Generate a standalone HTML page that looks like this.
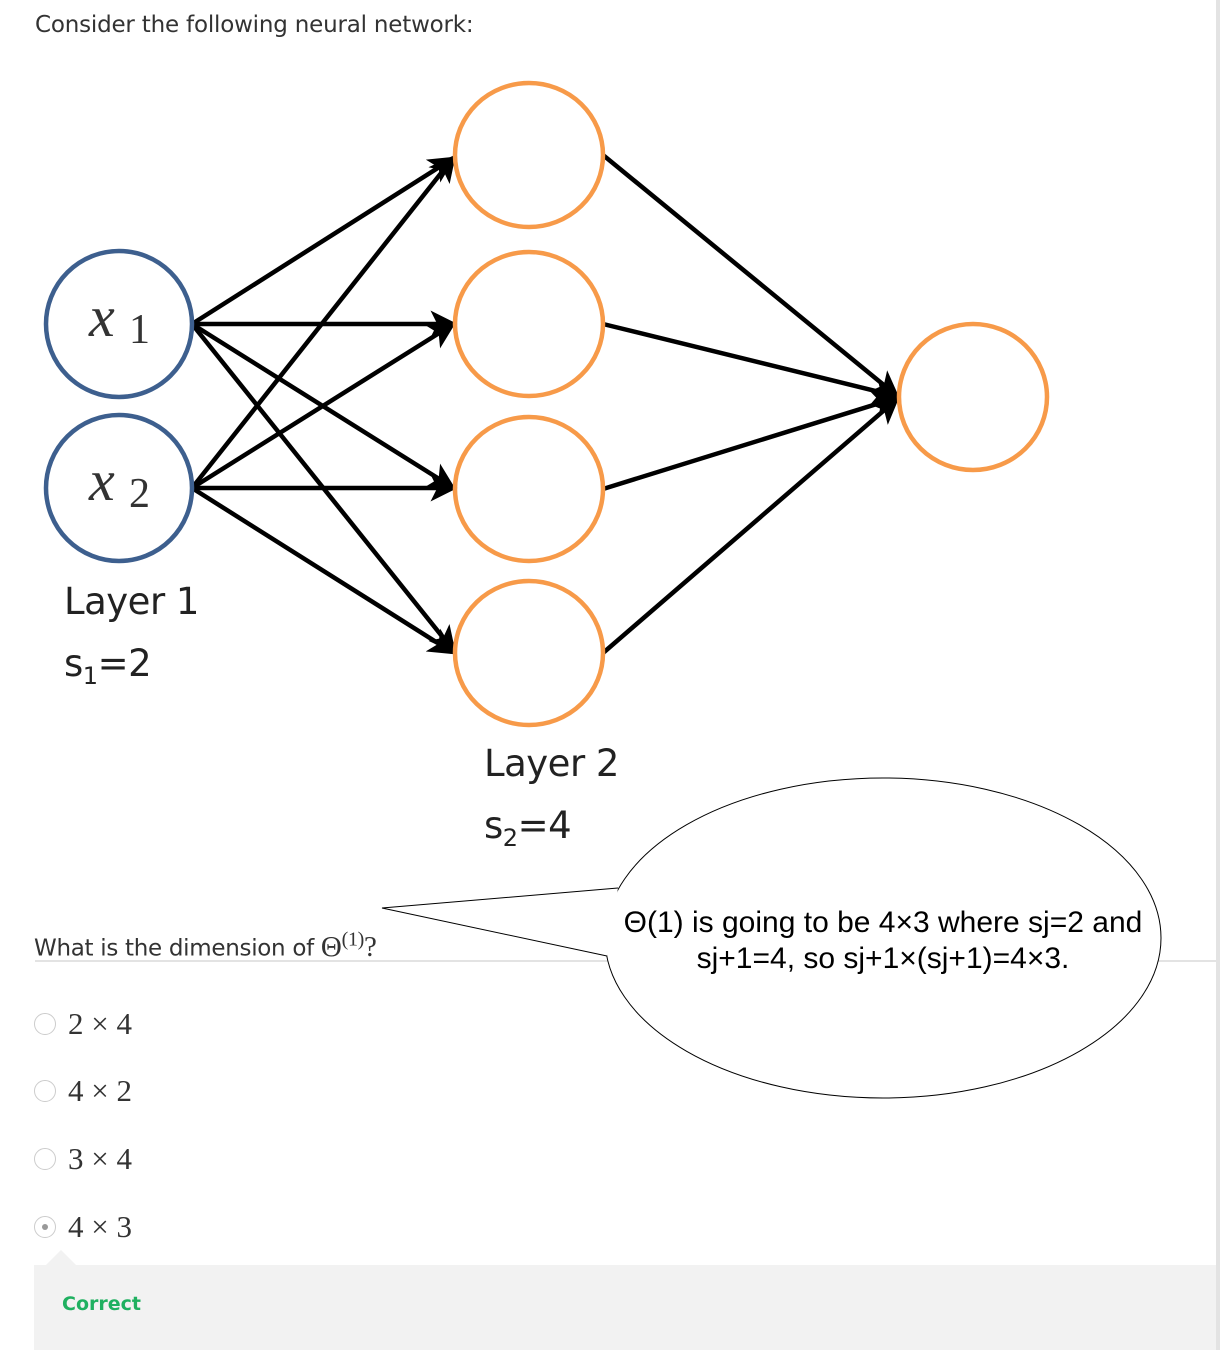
<!DOCTYPE html>
<html><head><meta charset="utf-8"><style>
body{margin:0;width:1220px;height:1350px;background:#fff;position:relative;overflow:hidden;font-family:"Liberation Sans",sans-serif}
.t{position:absolute;color:#333;font-size:24px;font-family:"DejaVu Sans","Liberation Sans",sans-serif}
.opt{position:absolute;left:33px;font-family:"Liberation Serif",serif;font-size:31px;color:#333}
.rad{position:absolute;left:34px;width:20px;height:20px;border:1px solid #ccc;border-radius:50%;background:#fff}
</style></head><body>
<div style="position:absolute;right:0;top:0;width:4px;height:1350px;background:#e3e3e3"></div>
<div class="t" style="left:35px;top:12px;font-size:23px;letter-spacing:-0.2px">Consider the following neural network:</div>
<svg width="1220" height="1350" style="position:absolute;left:0;top:0">
<defs><marker id="a" markerWidth="6" markerHeight="6" refX="5" refY="3" orient="auto" markerUnits="strokeWidth"><path d="M0,0 L6,3 L0,6 L1.5,3 Z" fill="#000"/></marker></defs>
<g stroke="#000" stroke-width="4.5" marker-end="url(#a)">
<line x1="192" y1="324" x2="452" y2="159"/><line x1="192" y1="324" x2="453" y2="324"/><line x1="192" y1="324" x2="452" y2="487"/><line x1="192" y1="324" x2="453" y2="650"/>
<line x1="192" y1="488" x2="453" y2="158"/><line x1="192" y1="488" x2="452" y2="325"/><line x1="192" y1="488" x2="453" y2="488"/><line x1="192" y1="488" x2="452" y2="652"/>
<line x1="603" y1="155" x2="896" y2="395"/><line x1="603" y1="324" x2="896" y2="396"/><line x1="603" y1="489" x2="896" y2="398"/><line x1="603" y1="653" x2="896" y2="400"/>
</g>
<g fill="none" stroke="#3d5f8e" stroke-width="4.5"><circle cx="119" cy="324" r="73"/><circle cx="119" cy="488" r="73"/></g>
<g fill="none" stroke="#f79a49" stroke-width="4.5"><ellipse cx="529" cy="155" rx="74" ry="72"/><ellipse cx="529" cy="324" rx="74" ry="72"/><ellipse cx="529" cy="489" rx="74" ry="72"/><ellipse cx="529" cy="653" rx="74" ry="72"/><ellipse cx="973" cy="397" rx="74" ry="73"/></g>
<g font-family="Liberation Serif,serif" font-style="italic" font-size="58" fill="#333"><text x="89" y="336">x</text><text x="89" y="500">x</text></g>
<g font-family="Liberation Serif,serif" font-size="42" fill="#333"><text x="129" y="343">1</text><text x="129" y="507">2</text></g>
<g font-family="DejaVu Sans,sans-serif" font-size="37" fill="#222" letter-spacing="-0.5"><text x="64" y="614">Layer 1</text><text x="64" y="676">s<tspan font-size="24" dy="8">1</tspan><tspan dy="-8">=2</tspan></text>
<text x="484" y="776">Layer 2</text><text x="484" y="838">s<tspan font-size="24" dy="8">2</tspan><tspan dy="-8">=4</tspan></text></g>
<line x1="35" y1="961" x2="1216" y2="961" stroke="#e3e3e3" stroke-width="2"/>
<ellipse cx="883" cy="938" rx="278" ry="160" fill="#fff" stroke="#000" stroke-width="1"/>
<path d="M618,888 L382,908 L607,956" fill="#fff" stroke="#000" stroke-width="1"/>
<g font-family="Liberation Sans,sans-serif" font-size="30" fill="#000" text-anchor="middle"><text x="883" y="932">Θ(1) is going to be 4×3 where sj=2 and</text><text x="883" y="968">sj+1=4, so sj+1×(sj+1)=4×3.</text></g>
</svg>
<div class="t" style="left:34px;top:928px;font-size:23px;letter-spacing:-0.3px">What is the dimension of <span style="font-family:'Liberation Serif',serif;font-size:29px">Θ<sup style="font-size:20px">(1)</sup>?</span></div>
<div class="rad" style="top:1013px"></div><div class="opt" style="left:68px;top:1006px">2 × 4</div>
<div class="rad" style="top:1080px"></div><div class="opt" style="left:68px;top:1073px">4 × 2</div>
<div class="rad" style="top:1148px"></div><div class="opt" style="left:68px;top:1141px">3 × 4</div>
<div class="rad" style="top:1216px"></div><div style="position:absolute;left:42px;top:1224px;width:6px;height:6px;border-radius:50%;background:#999"></div><div class="opt" style="left:68px;top:1209px">4 × 3</div>
<div style="position:absolute;left:34px;top:1265px;width:1182px;height:85px;background:#f2f2f2"></div>
<div style="position:absolute;left:46px;top:1250px;width:0;height:0;border-left:15px solid transparent;border-right:15px solid transparent;border-bottom:15px solid #f2f2f2"></div>
<div style="position:absolute;left:62px;top:1293px;color:#1fb060;font-weight:bold;font-size:19px;font-family:'DejaVu Sans',sans-serif">Correct</div>
</body></html>
